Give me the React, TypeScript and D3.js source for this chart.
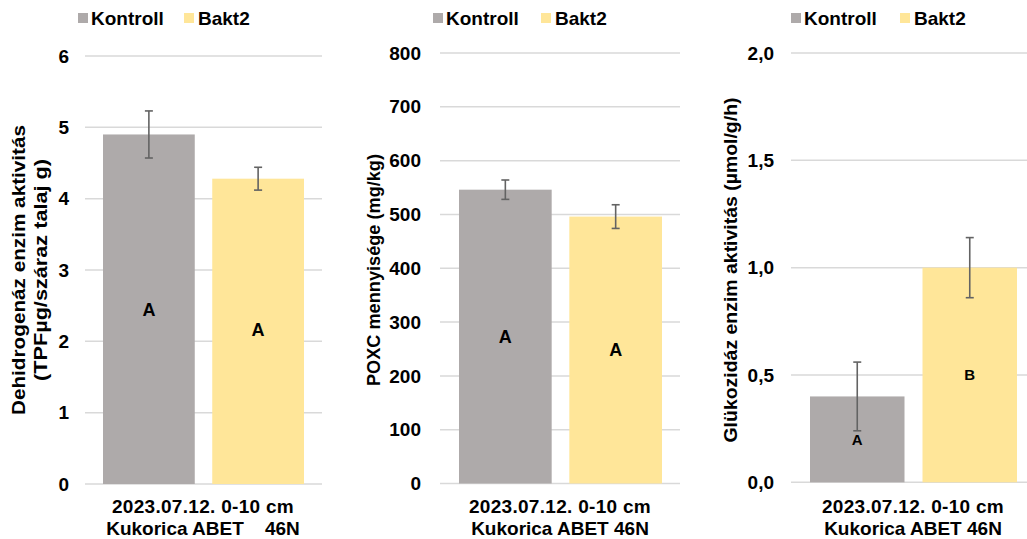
import React from "react";
import * as d3 from "d3";

const categories = ["Kontroll", "Bakt2"];
const colors = ["#aeaaaa", "#ffe699"];

// Panel 1: Dehidrogenáz
const dhValues = [4.9, 4.28];
const dhErrors = [0.33, 0.16];
const dhLetters = ["A", "A"];
const dhTicks = [0, 1, 2, 3, 4, 5, 6];

// Panel 2: POXC
const poxValues = [546, 496];
const poxErrors = [18, 22];
const poxLetters = ["A", "A"];
const poxTicks = [0, 100, 200, 300, 400, 500, 600, 700, 800];

// Panel 3: Glükozidáz
const glValues = [0.4, 1.0];
const glErrors = [0.16, 0.14];
const glLetters = ["A", "B"];
const glTicks = [0, 0.5, 1.0, 1.5, 2.0];

const xLabel1 = "2023.07.12. 0-10 cm";
const xLabelPanel1Line2 = "Kukorica ABET    46N";
const xLabelLine2 = "Kukorica ABET 46N";

const FONT = "'Liberation Sans', Arial, sans-serif";

type PanelProps = {
  values: number[];
  errors: number[];
  letters: string[];
  ticks: number[];
  tickFmt: (v: number) => string;
  yTop: number;
  yBottom: number;
  gridX0: number;
  gridX1: number;
  barX0: number;
  barX1: number;
  tickX: number;
  titleLines: string[];
  titleX: number;
  titleLen: number[];
  legendX: number;
  legendX2: number;
  letterYs: number[];
  letterSize: number;
  xLabelCenter: number;
  xLabel2: string;
};

function Panel(p: PanelProps) {
  const max = p.ticks[p.ticks.length - 1];
  const y = d3.scaleLinear().domain([0, max]).range([p.yBottom, p.yTop]);
  const x = d3
    .scaleBand<string>()
    .domain(categories)
    .range([p.barX0, p.barX1])
    .paddingInner(0.16)
    .paddingOuter(0);
  const bw = x.bandwidth();
  const titleCy = 270;
  return (
    <g>
      {p.ticks.map((t) => (
        <g key={t}>
          <line x1={p.gridX0} x2={p.gridX1} y1={y(t)} y2={y(t)} stroke="#d9d9d9" strokeWidth={1.5} />
          <text x={p.tickX} y={y(t)} dy="0.35em" textAnchor="end" fontSize={19} fontWeight="bold" fill="#000">
            {p.tickFmt(t)}
          </text>
        </g>
      ))}
      {categories.map((c, i) => {
        const v = p.values[i];
        const e = p.errors[i];
        const cx = (x(c) as number) + bw / 2;
        return (
          <g key={c}>
            <rect x={x(c)} y={y(v)} width={bw} height={y(0) - y(v)} fill={colors[i]} />
            <line x1={cx} x2={cx} y1={y(v + e)} y2={y(v - e)} stroke="#636363" strokeWidth={1.6} />
            <line x1={cx - 4} x2={cx + 4} y1={y(v + e)} y2={y(v + e)} stroke="#636363" strokeWidth={1.6} />
            <line x1={cx - 4} x2={cx + 4} y1={y(v - e)} y2={y(v - e)} stroke="#636363" strokeWidth={1.6} />
            <text x={cx} y={p.letterYs[i]} dy="0.35em" textAnchor="middle" fontSize={p.letterSize} fontWeight="bold" fill="#000">
              {p.letters[i]}
            </text>
          </g>
        );
      })}
      {/* legend */}
      <rect x={p.legendX} y={13} width={10} height={10} fill={colors[0]} />
      <text x={p.legendX + 13} y={25} fontSize={19} fontWeight="bold" fill="#000">
        {categories[0]}
      </text>
      <rect x={p.legendX2} y={13} width={10} height={10} fill={colors[1]} />
      <text x={p.legendX2 + 14} y={25} fontSize={19} fontWeight="bold" fill="#000">
        {categories[1]}
      </text>
      {/* x labels */}
      <text x={p.xLabelCenter} y={513} textAnchor="middle" fontSize={19} fontWeight="bold" fill="#000" letterSpacing={0.3}>
        {xLabel1}
      </text>
      <text x={p.xLabelCenter} y={535} textAnchor="middle" fontSize={19} fontWeight="bold" fill="#000" style={{ whiteSpace: "pre" }}>
        {p.xLabel2}
      </text>
      {/* y title */}
      {p.titleLines.map((line, i) => (
        <text
          key={i}
          transform={`translate(${p.titleX + i * 22},${titleCy}) rotate(-90)`}
          textAnchor="middle"
          fontSize={18}
          fontWeight="bold"
          fill="#000"
          textLength={p.titleLen[i]}
          lengthAdjust="spacingAndGlyphs"
        >
          {line}
        </text>
      ))}
    </g>
  );
}

export default function App() {
  const fmt0 = (v: number) => d3.format("d")(v);
  const fmtComma = (v: number) => d3.format(".1f")(v).replace(".", ",");
  return (
    <svg width={1027} height={539} style={{ position: "absolute", left: 0, top: 0, fontFamily: FONT }}>
      <rect width={1027} height={539} fill="#fff" />
      <Panel
        values={dhValues}
        errors={dhErrors}
        letters={dhLetters}
        ticks={dhTicks}
        tickFmt={fmt0}
        yTop={56}
        yBottom={484}
        gridX0={85}
        gridX1={322}
        barX0={103}
        barX1={304}
        tickX={69}
        titleLines={["Dehidrogenáz enzim aktivitás", "(TPFµg/száraz talaj g)"]}
        titleX={25}
        titleLen={[290, 222]}
        legendX={78}
        legendX2={184}
        letterYs={[310, 330]}
        letterSize={18}
        xLabelCenter={203}
        xLabel2={xLabelPanel1Line2}
      />
      <Panel
        values={poxValues}
        errors={poxErrors}
        letters={poxLetters}
        ticks={poxTicks}
        tickFmt={fmt0}
        yTop={53}
        yBottom={483.5}
        gridX0={440}
        gridX1={680}
        barX0={459}
        barX1={662}
        tickX={421}
        titleLines={["POXC mennyisége (mg/kg)"]}
        titleX={380}
        titleLen={[232]}
        legendX={433}
        legendX2={541}
        letterYs={[337, 350]}
        letterSize={18}
        xLabelCenter={560}
        xLabel2={xLabelLine2}
      />
      <Panel
        values={glValues}
        errors={glErrors}
        letters={glLetters}
        ticks={glTicks}
        tickFmt={fmtComma}
        yTop={53}
        yBottom={482.3}
        gridX0={791}
        gridX1={1027}
        barX0={810}
        barX1={1017}
        tickX={774}
        titleLines={["Glükozidáz enzim aktivitás (µmol/g/h)"]}
        titleX={737}
        titleLen={[345]}
        legendX={791}
        legendX2={900}
        letterYs={[440, 375]}
        letterSize={15}
        xLabelCenter={913}
        xLabel2={xLabelLine2}
      />
    </svg>
  );
}
